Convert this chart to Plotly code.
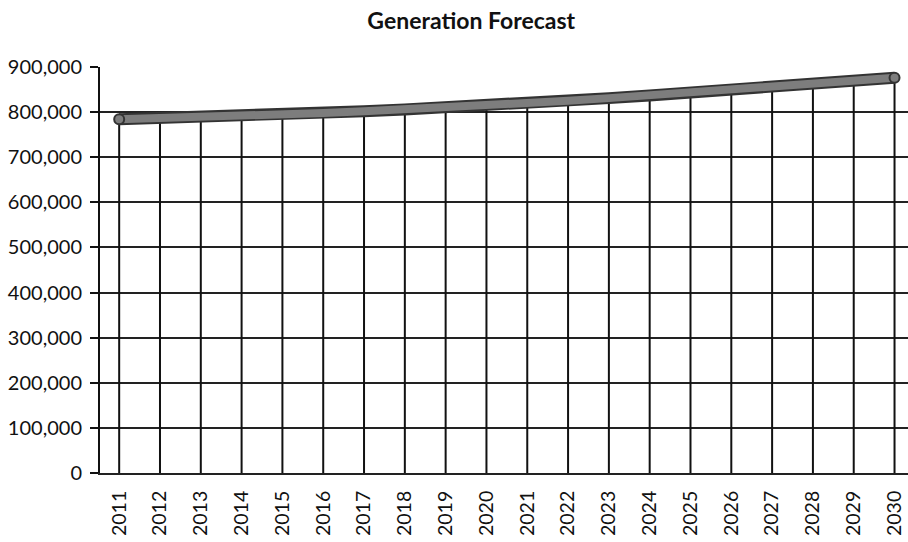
import plotly.graph_objects as go

# Annual generation forecast
years = [str(y) for y in range(2011, 2031)]
generation = [784000, 786000, 788000, 791000, 794000, 798000, 802000, 806000,
              810000, 815000, 820000, 825000, 831000, 837000, 843000, 849000,
              856000, 863000, 869000, 876000]

y_ticks = [0, 100000, 200000, 300000, 400000, 500000, 600000, 700000, 800000, 900000]

font_family = "Lato, 'Open Sans', 'Liberation Sans', sans-serif"

fig = go.Figure()

# drop lines from each point down to the category axis
fig.add_trace(go.Scatter(
    x=years, y=generation, mode="markers",
    marker=dict(size=1, color="rgba(0,0,0,0)"),
    error_y=dict(type="data", symmetric=False,
                 array=[0] * len(generation), arrayminus=generation,
                 color="#111111", thickness=2, width=0),
    hoverinfo="skip", showlegend=False,
))

# thick outlined forecast line
fig.add_trace(go.Scatter(
    x=years, y=generation, mode="lines",
    line=dict(color="#333333", width=12),
    showlegend=False, hoverinfo="skip",
))
fig.add_trace(go.Scatter(
    x=years, y=generation, mode="lines",
    line=dict(color="#7d7d7d", width=8),
    showlegend=False,
))
# rounded ends
fig.add_trace(go.Scatter(
    x=[years[0], years[-1]], y=[generation[0], generation[-1]], mode="markers",
    marker=dict(size=10, color="#7d7d7d", line=dict(color="#333333", width=2)),
    showlegend=False, hoverinfo="skip",
))

fig.update_layout(
    width=908, height=542,
    margin=dict(l=100, r=0, t=67, b=69),
    paper_bgcolor="white", plot_bgcolor="white",
    font=dict(family=font_family, size=20, color="#111111"),
    title=dict(text="<b>Generation Forecast</b>", x=0.519, xref="container",
               y=1 - 21 / 542, yref="container", xanchor="center", yanchor="middle",
               font=dict(family=font_family, size=23, color="#111111")),
)

fig.update_xaxes(
    type="category", range=[-0.47, 19.33],
    showgrid=False, zeroline=False,
    showline=True, linecolor="#222222", linewidth=2,
    ticks="", tickangle=-90, ticklabelstandoff=8,
    tickfont=dict(family=font_family, size=19.5, color="#111111"),
)

fig.update_yaxes(
    range=[0, 900000], tickvals=y_ticks, tickformat=",",
    showgrid=True, gridcolor="#222222", gridwidth=1.5,
    zeroline=False,
    showline=True, linecolor="#111111", linewidth=2,
    ticks="outside", ticklen=8, tickcolor="#111111", tickwidth=1.5,
    ticklabelstandoff=4,
    tickfont=dict(family=font_family, size=20, color="#111111"),
)

fig.write_html("out.html")
